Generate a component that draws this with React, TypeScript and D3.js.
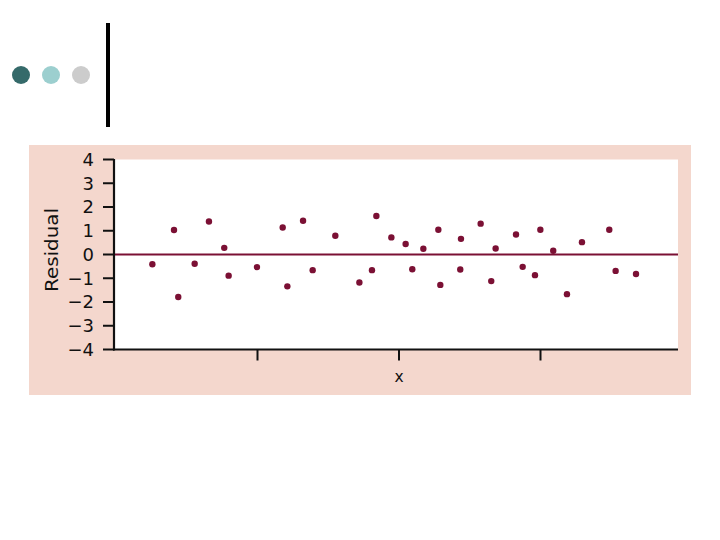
import React from "react";
import * as d3 from "d3";

const xValues = [0.257, 0.41, 0.44, 0.556, 0.657, 0.765, 0.796, 0.996, 1.178, 1.211, 1.322, 1.39, 1.55, 1.72, 1.809, 1.84, 1.946, 2.047, 2.094, 2.172, 2.278, 2.292, 2.438, 2.433, 2.577, 2.652, 2.683, 2.827, 2.874, 2.961, 2.999, 3.09, 3.187, 3.293, 3.486, 3.531, 3.675];
const residuals = [-0.41, 1.03, -1.79, -0.39, 1.39, 0.28, -0.89, -0.53, 1.14, -1.34, 1.42, -0.66, 0.79, -1.18, -0.66, 1.62, 0.72, 0.44, -0.62, 0.24, 1.04, -1.28, 0.66, -0.63, 1.3, -1.12, 0.25, 0.84, -0.52, -0.87, 1.04, 0.16, -1.67, 0.52, 1.04, -0.69, -0.82];
const yTicks = [4, 3, 2, 1, 0, -1, -2, -3, -4];
const xTicks = [1, 2, 3];
const dotColors = ["#356a6a", "#9ccfcf", "#cccccc"];

export default function App() {
  const plotLeft = 114;
  const plotRight = 678;
  const plotTop = 159.5;
  const plotBottom = 349.5;
  const x = d3.scaleLinear().domain([0, 4]).range([116, 682]);
  const y = d3.scaleLinear().domain([-4, 4]).range([plotBottom, plotTop]);
  const font = "'DejaVu Sans', sans-serif";
  const maroon = "#7b1034";
  return (
    <svg width={720} height={540} style={{ position: "absolute", left: 0, top: 0 }}>
      <rect x={0} y={0} width={720} height={540} fill="#ffffff" />
      {dotColors.map((c, i) => (
        <circle key={i} cx={21 + i * 30} cy={75} r={9} fill={c} />
      ))}
      <rect x={106} y={23} width={4} height={104} fill="#000000" />
      <rect x={29} y={145} width={662} height={250} fill="#f4d7cd" />
      <rect x={plotLeft} y={plotTop} width={plotRight - plotLeft} height={plotBottom - plotTop} fill="#ffffff" />
      <line x1={plotLeft} x2={plotRight} y1={y(0)} y2={y(0)} stroke={maroon} strokeWidth={1.8} />
      {xValues.map((xv, i) => (
        <circle key={i} cx={x(xv)} cy={y(residuals[i])} r={3.2} fill={maroon} />
      ))}
      <line x1={plotLeft} x2={plotLeft} y1={plotTop - 0.5} y2={plotBottom + 1} stroke="#111" strokeWidth={2.2} />
      <line x1={plotLeft - 1} x2={plotRight} y1={plotBottom} y2={plotBottom} stroke="#111" strokeWidth={2.2} />
      {yTicks.map((t) => (
        <g key={t}>
          <line x1={plotLeft - 11} x2={plotLeft} y1={y(t)} y2={y(t)} stroke="#111" strokeWidth={2} />
          <text x={94} y={y(t)} dy="0.36em" textAnchor="end" fontFamily={font} fontSize={18} fill="#111">
            {t < 0 ? "\u2212" + Math.abs(t) : String(t)}
          </text>
        </g>
      ))}
      {xTicks.map((t) => (
        <line key={t} x1={x(t)} x2={x(t)} y1={plotBottom} y2={plotBottom + 11} stroke="#111" strokeWidth={2} />
      ))}
      <text x={x(2)} y={381.7} textAnchor="middle" fontFamily={font} fontSize={15.5} fill="#111">x</text>
      <text transform="translate(58,250) rotate(-90)" textAnchor="middle" fontFamily={font} fontSize={17.5} textLength={84} lengthAdjust="spacingAndGlyphs" fill="#111">Residual</text>
    </svg>
  );
}
